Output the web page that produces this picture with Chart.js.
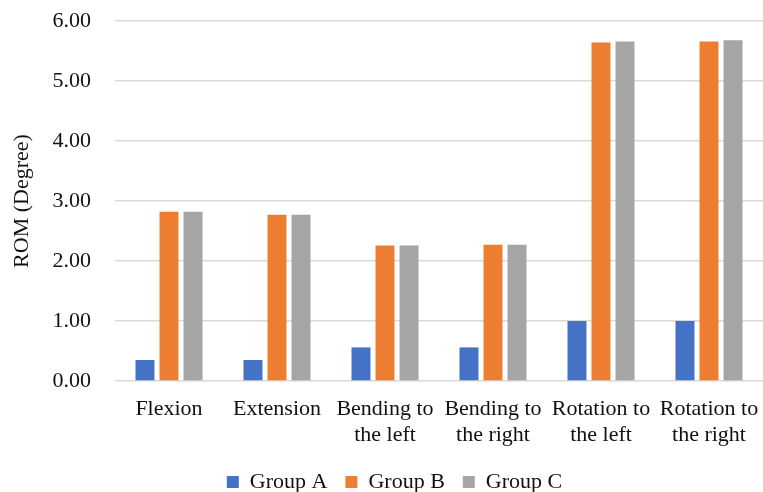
<!DOCTYPE html>
<html>
<head>
<meta charset="utf-8">
<script src="https://cdn.jsdelivr.net/npm/chart.js@4/dist/chart.umd.min.js"></script>
<style>
html,body{margin:0;padding:0;background:#fff;}
#wrap{width:763px;height:492px;}
</style>
</head>
<body>
<div id="wrap"><canvas id="c" width="763" height="492"></canvas></div>
<script>
const categories = [["Flexion"],["Extension"],["Bending to","the left"],["Bending to","the right"],["Rotation to","the left"],["Rotation to","the right"]];
const seriesNames = ["Group A","Group B","Group C"];
const groupA = [0.35, 0.35, 0.56, 0.56, 1.00, 1.00];
const groupB = [2.82, 2.77, 2.26, 2.27, 5.64, 5.66];
const groupC = [2.82, 2.77, 2.26, 2.27, 5.66, 5.68];
const colors = ["#4472C4","#ED7D31","#A5A5A5"];
const yTicks = [0,1,2,3,4,5,6];

const FONT = "'Liberation Serif','Times New Roman',serif";
Chart.defaults.font.family = FONT;
Chart.defaults.color = "#111";

const shiftLegend = {
  id: 'shiftLegend',
  afterLayout(chart) {
    const lg = chart.legend;
    if (lg) { lg.left += 11; lg.right += 11; }
  }
};

new Chart(document.getElementById('c'), {
  type: 'bar',
  data: {
    labels: categories,
    datasets: [groupA, groupB, groupC].map((d, i) => ({
      label: seriesNames[i],
      data: d,
      backgroundColor: colors[i],
      borderWidth: 0,
      barPercentage: 0.79,
      categoryPercentage: 0.667
    }))
  },
  plugins: [shiftLegend],
  options: {
    responsive: false,
    animation: false,
    layout: { padding: { top: 21, right: 0, left: 4, bottom: -11 } },
    plugins: {
      tooltip: { enabled: false },
      legend: {
        position: 'bottom',
        labels: {
          font: { size: 22, family: FONT },
          color: '#111',
          boxWidth: 12,
          boxHeight: 12,
          padding: 18
        }
      }
    },
    scales: {
      x: {
        grid: { display: false, drawTicks: false },
        border: { display: false },
        ticks: { font: { size: 22, family: FONT, lineHeight: 1.2 }, color: '#111', padding: 15, maxRotation: 0, autoSkip: false },
        afterFit: (s) => { s.paddingLeft = 0; s.paddingRight = 0; s.height = 72; }
      },
      y: {
        min: 0, max: 6,
        afterBuildTicks: (axis) => { axis.ticks = yTicks.map(v => ({ value: v })); },
        grid: { color: '#d9d9d9', lineWidth: 1.5, drawTicks: false },
        border: { display: false },
        ticks: {
          font: { size: 22, family: FONT }, color: '#111', padding: 24,
          callback: (v) => Number(v).toFixed(2)
        },
        title: { display: true, text: 'ROM (Degree)', font: { size: 22, family: FONT }, color: '#111', padding: { top: 5, bottom: 0 } },
        afterFit: (s) => { s.paddingTop = 0; s.paddingBottom = 0; s.width = 111; }
      }
    }
  }
});
</script>
</body>
</html>
